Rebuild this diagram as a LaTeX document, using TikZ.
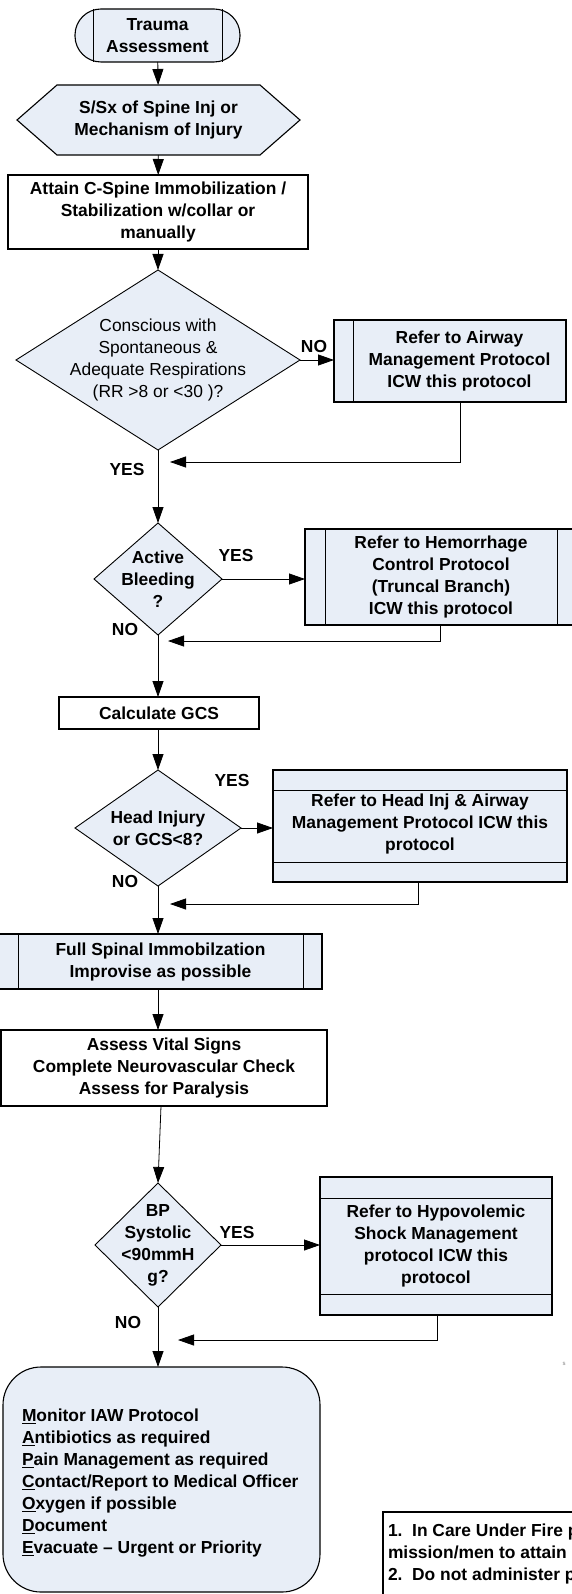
\documentclass[tikz,border=0pt]{standalone}
\usepackage{fontspec}
\setmainfont{Liberation Sans}
\usetikzlibrary{arrows.meta}
\definecolor{pale}{HTML}{E8EEF7}
\newcommand{\bfnt}{\bfseries\fontsize{17.4}{22}\selectfont}
\newcommand{\mfnt}{\mdseries\fontsize{17.4}{22}\selectfont}
\tikzset{
  frame/.style={shape=rectangle, inner sep=0pt, outer sep=0pt},
  txt/.style={shape=rectangle, inner sep=0pt, outer sep=0pt, align=center, font=\bfnt, text=black},
  plainbox/.style={txt, draw=black, line width=1.1pt, fill=white},
  shp/.style={draw=black, line width=1.1pt, fill=pale},
  dshp/.style={draw=black, line width=0.9pt, fill=pale},
  thin/.style={draw=black, line width=0.9pt},
  arr/.style={-{Triangle[length=16pt,width=11pt]}, line width=0.8pt},
  lbl/.style={font=\bfnt, inner sep=0pt, outer sep=0pt},
}
\begin{document}
\begin{tikzpicture}[x=1pt,y=-1pt]
\useasboundingbox (0,0) rectangle (572,1594);
\begin{scope}
\clip (0,0) rectangle (572,1594);

% ---------- frames (named, empty) ----------
\node[frame, minimum width=165, minimum height=53] (start) at (157.5,35.5) {};
\node[frame, minimum width=283, minimum height=70] (sx) at (158.5,120) {};
\node[frame, minimum width=284, minimum height=180] (con) at (158,360) {};
\node[frame, minimum width=232, minimum height=82] (air) at (450,361) {};
\node[frame, minimum width=128, minimum height=112] (act) at (158,579) {};
\node[frame, minimum width=285, minimum height=96] (hem) at (447.5,577) {};
\node[frame, minimum width=166, minimum height=116] (head) at (158,828) {};
\node[frame, minimum width=294, minimum height=112] (hbox) at (420,826) {};
\node[frame, minimum width=327, minimum height=55] (full) at (158.5,961.5) {};
\node[frame, minimum width=126, minimum height=124] (bp) at (158,1245) {};
\node[frame, minimum width=232, minimum height=138] (hypo) at (436,1246) {};
\node[frame, minimum width=317, minimum height=225] (fin) at (161.5,1479.5) {};
\coordinate (j1) at (170,462);
\coordinate (j2) at (168,641);
\coordinate (j3) at (170,904);
\coordinate (j4) at (178,1340);

% ---------- shapes ----------
\draw[shp, rounded corners=26] (start.south west) rectangle (start.north east);
\draw[thin] ([xshift=18]start.north west) -- ([xshift=18]start.south west);
\draw[thin] ([xshift=-18]start.north east) -- ([xshift=-18]start.south east);
\draw[shp] (sx.west) -- ([xshift=40]sx.north west) -- ([xshift=-40]sx.north east) -- (sx.east) -- ([xshift=-40]sx.south east) -- ([xshift=40]sx.south west) -- cycle;
\draw[dshp] (con.north) -- (con.east) -- (con.south) -- (con.west) -- cycle;
\draw[shp] (air.south west) rectangle (air.north east);
\draw[thin] ([xshift=19]air.north west) -- ([xshift=19]air.south west);
\draw[dshp] (act.north) -- (act.east) -- (act.south) -- (act.west) -- cycle;
\draw[shp] (hem.south west) rectangle (hem.north east);
\draw[thin] ([xshift=20]hem.north west) -- ([xshift=20]hem.south west);
\draw[thin] ([xshift=252]hem.north west) -- ([xshift=252]hem.south west);
\draw[dshp] (head.north) -- (head.east) -- (head.south) -- (head.west) -- cycle;
\draw[shp] (hbox.south west) rectangle (hbox.north east);
\draw[thin] ([yshift=-20]hbox.north west) -- ([yshift=-20]hbox.north east);
\draw[thin] ([yshift=20]hbox.south west) -- ([yshift=20]hbox.south east);
\draw[shp] (full.south west) rectangle (full.north east);
\draw[thin] ([xshift=23]full.north west) -- ([xshift=23]full.south west);
\draw[thin] ([xshift=-19]full.north east) -- ([xshift=-19]full.south east);
\draw[dshp] (bp.north) -- (bp.east) -- (bp.south) -- (bp.west) -- cycle;
\draw[shp] (hypo.south west) rectangle (hypo.north east);
\draw[thin] ([yshift=-21]hypo.north west) -- ([yshift=-21]hypo.north east);
\draw[thin] ([yshift=21]hypo.south west) -- ([yshift=21]hypo.south east);
\draw[shp, rounded corners=38] (fin.south west) rectangle (fin.north east);

% ---------- texts ----------
\node[txt] (startt) at (start) {Trauma\\Assessment};
\node[txt] (sxt) at (sx) {S/Sx of Spine Inj or\\Mechanism of Injury};
\node[plainbox, minimum width=300, minimum height=74] (att) at (158,212) {Attain C-Spine Immobilization /\\Stabilization w/collar or\\manually};
\node[txt, font=\mfnt] (cont) at (con) {Conscious with\\Spontaneous \&\\Adequate Respirations\\(RR >8 or <30 )?};
\node[txt] (airt) at ([xshift=9.5]air.center) {Refer to Airway\\Management Protocol\\ICW this protocol};
\node[lbl] (no1) at (314,347) {NO};
\node[lbl] (yes1) at (127,470) {YES};

\node[txt] (actt) at (act) {Active\\Bleeding\\?};
\node[txt] (hemt) at ([xshift=-6.5]hem.center) {Refer to Hemorrhage\\Control Protocol\\(Truncal Branch)\\ICW this protocol};
\node[lbl] (yes2) at (236,556) {YES};
\node[lbl] (no2) at (125,630) {NO};

\node[plainbox, minimum width=200, minimum height=32] (gcs) at (159,713) {Calculate GCS};
\node[txt] (headt) at (head) {Head Injury\\or GCS<8?};
\node[txt] (hboxt) at ([yshift=2]hbox.center) {Refer to Head Inj \& Airway\\Management Protocol ICW this\\protocol};
\node[lbl] (yes3) at (232,781) {YES};
\node[lbl] (no3) at (125,882) {NO};

\node[txt] (fullt) at ([xshift=2]full.center) {Full Spinal Immobilzation\\Improvise as possible};
\node[plainbox, minimum width=326, minimum height=76] (vit) at (164,1068) {Assess Vital Signs\\Complete Neurovascular Check\\Assess for Paralysis};

\node[txt] (bpt) at (bp) {BP\\Systolic\\<90mmH\\g?};
\node[txt] (hypot) at (hypo) {Refer to Hypovolemic\\Shock Management\\protocol ICW this\\protocol};
\node[lbl] (yes4) at (237,1232) {YES};
\node[lbl] (no4) at (128,1322) {NO};
\node[font=\fontsize{6}{7}\selectfont, text=gray, inner sep=0pt] (frag) at (564,1364) {s};

\node[txt, align=left, anchor=west] (fint) at (22,1483) {\underline{M}onitor IAW Protocol\\\underline{A}ntibiotics as required\\\underline{P}ain Management as required\\\underline{C}ontact/Report to Medical Officer\\\underline{O}xygen if possible\\\underline{D}ocument\\\underline{E}vacuate -- Urgent or Priority};

\node[txt, draw=black, line width=1.1pt, fill=white, minimum width=220, minimum height=110] (rule) at (493,1567) {};
\node[txt, align=left, anchor=north west] (rulet) at (388,1524) {1.\ \ In Care Under Fire ph\\mission/men to attain sp\\2.\ \ Do not administer pa};

% ---------- connectors ----------
\draw[arr] (start) -- (sx);
\draw[arr] (sx) -- (att);
\draw[arr] (att) -- (con);
\draw[arr] (con.east) -- (con.east -| air.west);
\draw[arr] ([xshift=10]air.south) |- (j1);
\draw[arr] (con.south) -- (act.north);
\draw[arr] (act.east) -- (act.east -| hem.west);
\draw[arr] ([xshift=-7.5]hem.south) |- (j2);
\draw[arr] (act.south) -- (gcs.north -| act.south);
\draw[arr] (gcs.south -| head.north) -- (head.north);
\draw[arr] (head.east) -- (head.east -| hbox.west);
\draw[arr] ([xshift=-2]hbox.south) |- (j3);
\draw[arr] (head.south) -- (full.north -| head.south);
\draw[arr] (full.south -| bp.north) -- (vit.north -| bp.north);
\draw[arr] ([xshift=-3]vit.south) -- (bp.north);
\draw[arr] (bp.east) -- (bp.east -| hypo.west);
\draw[arr] ([xshift=1]hypo.south) |- (j4);
\draw[arr] (bp.south) -- (fin.north -| bp.south);
\end{scope}
\end{tikzpicture}
\end{document}
